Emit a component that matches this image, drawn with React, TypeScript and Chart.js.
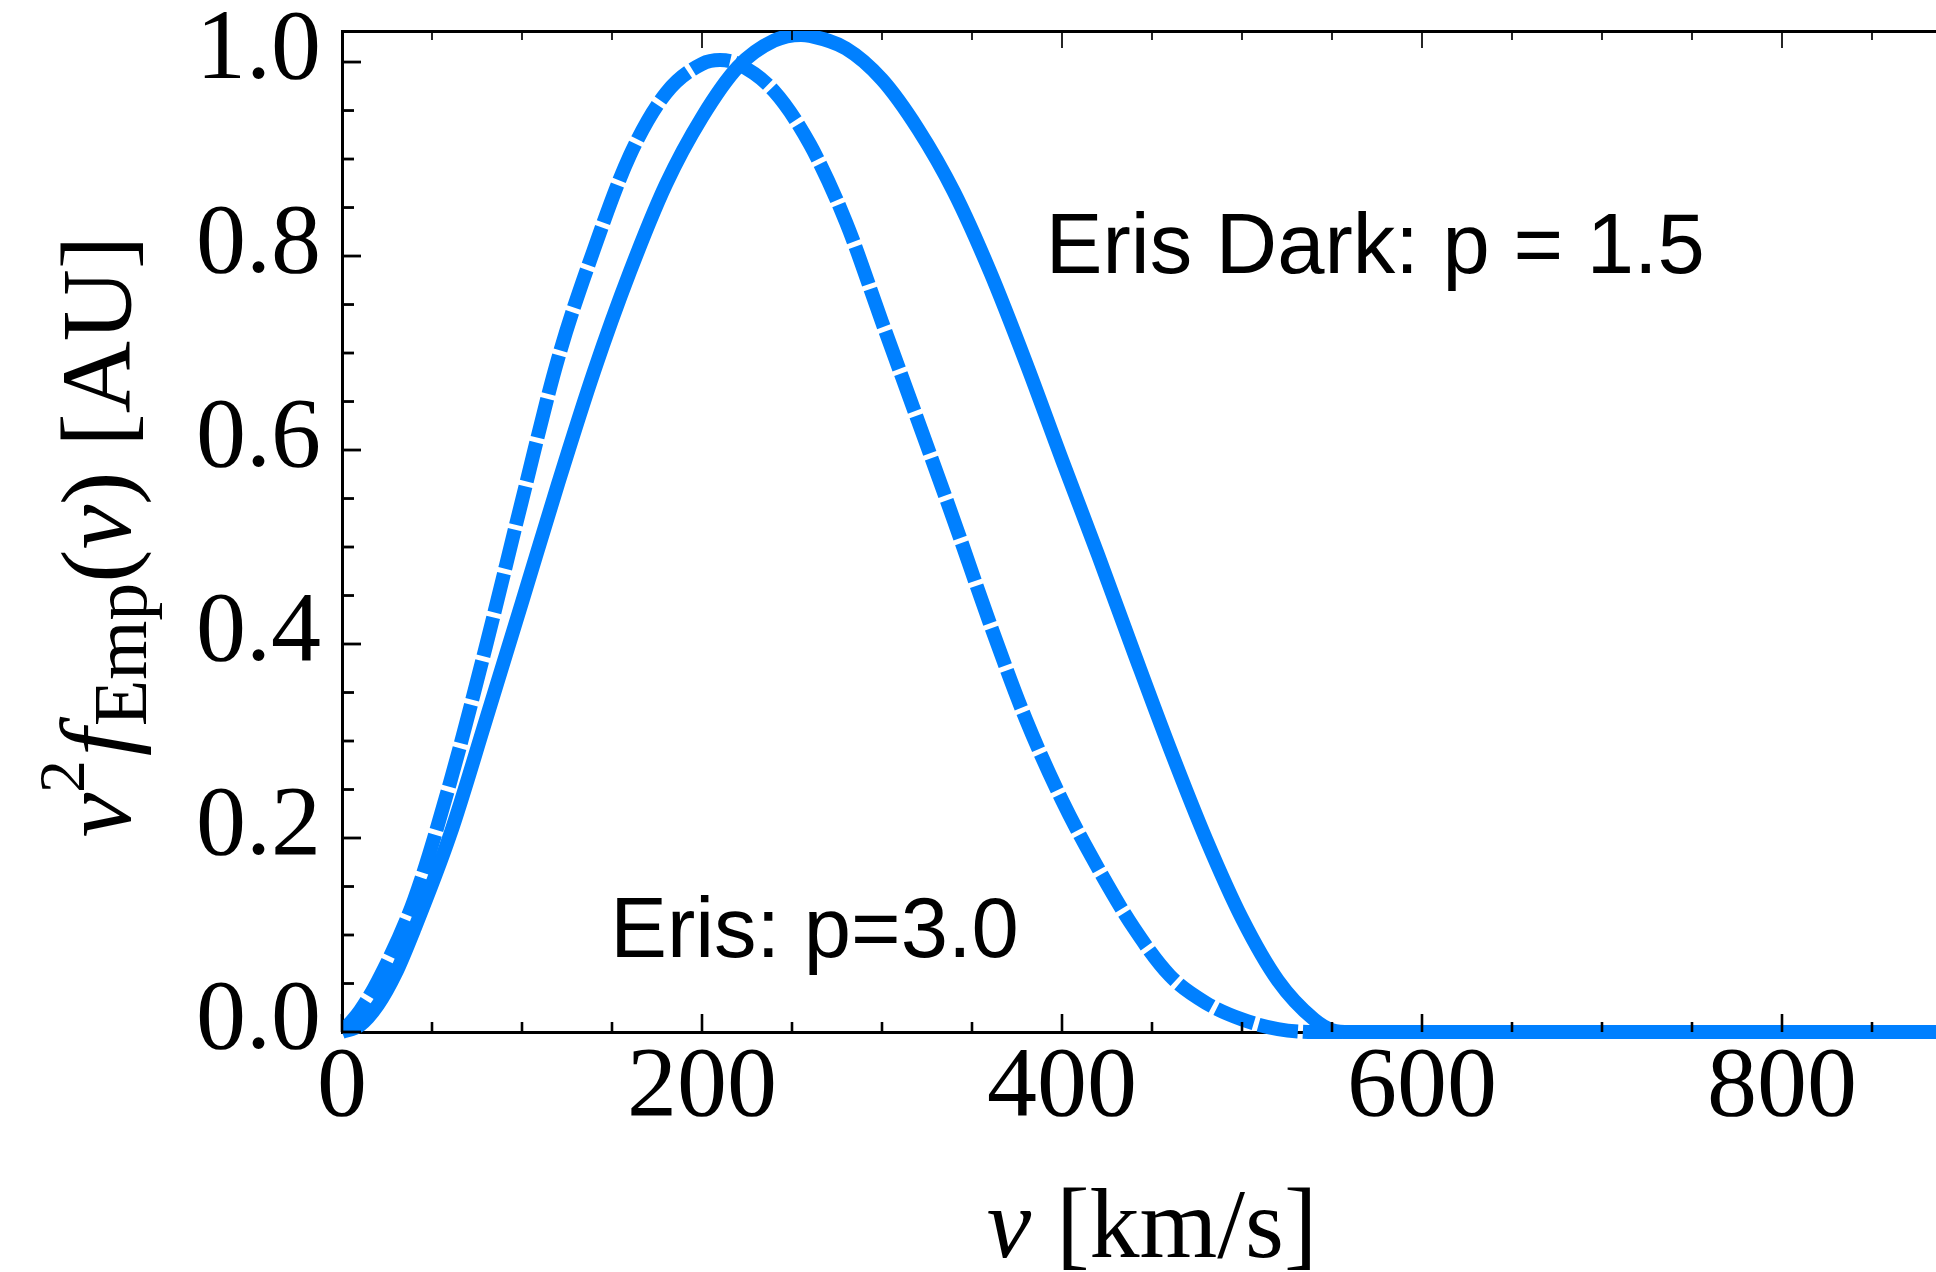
import { useEffect, useRef } from "react";
import { Chart, registerables } from "chart.js";

Chart.register(...registerables);

// Eris, p = 3.0 (dashed curve): speed in km/s and normalised v^2 f(v)
const ERIS_SPEED = [
  0, 10, 20, 40, 60, 80, 100, 120, 140, 160, 180, 200, 210, 220, 240, 260, 280, 300,
  320, 340, 360, 380, 400, 420, 440, 460, 480, 500, 520, 540, 600, 700, 800, 900,
];
const ERIS_VALUE = [
  0, 0.022, 0.053, 0.136, 0.257, 0.398, 0.548, 0.694, 0.807, 0.904, 0.968, 0.998,
  1.002, 0.998, 0.97, 0.915, 0.835, 0.732, 0.63, 0.527, 0.421, 0.322, 0.239, 0.169,
  0.107, 0.058, 0.03, 0.013, 0.003, 0, 0, 0, 0, 0,
];

// Eris Dark, p = 1.5 (solid curve)
const ERIS_DARK_SPEED = [
  0, 10, 20, 30, 40, 60, 80, 100, 120, 140, 160, 180, 200, 220, 240, 255, 260, 280,
  300, 320, 340, 360, 380, 400, 420, 440, 460, 480, 500, 520, 540, 550, 560, 600,
  700, 800, 900,
];
const ERIS_DARK_VALUE = [
  0, 0.007, 0.028, 0.061, 0.105, 0.203, 0.322, 0.443, 0.565, 0.681, 0.784, 0.874,
  0.943, 0.995, 1.022, 1.028, 1.027, 1.014, 0.982, 0.931, 0.866, 0.784, 0.69, 0.59,
  0.492, 0.391, 0.292, 0.199, 0.117, 0.053, 0.013, 0.002, 0, 0, 0, 0, 0,
];

const X_LABEL_TICKS = [0, 200, 400, 600, 800];
const Y_LABEL_TICKS = [0, 0.2, 0.4, 0.6, 0.8, 1.0];
const X_MIN = 0;
const X_MAX = 900;
const Y_MIN = 0;
const Y_MAX = 1.032;
const X_MAJOR_STEP = 200;
const X_MINOR_STEP = 50;
const Y_MINOR_COUNT = 20; // minor ticks every 0.05 up to 1.0, major every 0.2

const ERIS_LABEL = "Eris: p=3.0";
const ERIS_DARK_LABEL = "Eris Dark: p = 1.5";

const BLUE = "#0080ff";
const SERIF = '"Liberation Serif", "Times New Roman", serif';
const SANS = '"Liberation Sans", Arial, Helvetica, sans-serif';

type Run = { text: string; font: string; shift?: number; gap?: number };

function runsWidth(ctx: CanvasRenderingContext2D, runs: Run[]) {
  let w = 0;
  for (const r of runs) {
    ctx.font = r.font;
    w += ctx.measureText(r.text).width + (r.gap || 0);
  }
  return w;
}

function drawRuns(ctx: CanvasRenderingContext2D, runs: Run[], x: number, y: number) {
  let cx = x;
  for (const r of runs) {
    ctx.font = r.font;
    ctx.fillText(r.text, cx, y + (r.shift || 0));
    cx += ctx.measureText(r.text).width + (r.gap || 0);
  }
}

// inward tick marks, axis titles and in-plot curve labels
const decorPlugin = {
  id: "decor",
  afterDraw(chart: any) {
    const { ctx, chartArea: area, scales } = chart;
    const xs = scales.x;
    const ys = scales.y;
    ctx.save();
    ctx.strokeStyle = "#000";
    ctx.lineCap = "butt";

    for (let v = X_MIN; v <= X_MAX + 1e-9; v += X_MINOR_STEP) {
      const px = xs.getPixelForValue(v);
      const major = v % X_MAJOR_STEP === 0;
      // bottom
      ctx.lineWidth = 2.6;
      ctx.beginPath();
      ctx.moveTo(px, area.bottom);
      ctx.lineTo(px, area.bottom - (major ? 18 : 10));
      ctx.stroke();
      // top
      ctx.lineWidth = 1.7;
      ctx.beginPath();
      ctx.moveTo(px, area.top);
      ctx.lineTo(px, area.top + (major ? 17 : 9));
      ctx.stroke();
    }

    ctx.lineWidth = 2.8;
    for (let i = 0; i <= Y_MINOR_COUNT; i++) {
      const val = i / Y_MINOR_COUNT;
      const py = ys.getPixelForValue(val);
      const major = i % 4 === 0;
      ctx.beginPath();
      ctx.moveTo(area.left, py);
      ctx.lineTo(area.left + (major ? 19 : 12), py);
      ctx.stroke();
    }

    ctx.fillStyle = "#000";
    ctx.textAlign = "left";
    ctx.textBaseline = "alphabetic";

    // curve labels
    ctx.font = `85px ${SANS}`;
    ctx.fillText(ERIS_DARK_LABEL, xs.getPixelForValue(391), ys.getPixelForValue(0.7825));
    ctx.fillText(ERIS_LABEL, xs.getPixelForValue(149), ys.getPixelForValue(0.0773));

    // x axis title
    const xRuns: Run[] = [
      { text: "v", font: `italic 100px ${SERIF}` },
      { text: " [km/s]", font: `100px ${SERIF}` },
    ];
    const xMid = xs.getPixelForValue((X_MIN + X_MAX) / 2);
    drawRuns(ctx, xRuns, xMid - runsWidth(ctx, xRuns) / 2, 1257);

    // y axis title, rotated
    const yRuns: Run[] = [
      { text: "v", font: `italic 100px ${SERIF}` },
      { text: "2", font: `66px ${SERIF}`, shift: -46, gap: 4 },
      { text: "f", font: `italic 100px ${SERIF}`, gap: 2 },
      { text: "Emp", font: `76px ${SERIF}`, shift: 16 },
      { text: "(", font: `100px ${SERIF}` },
      { text: "v", font: `italic 100px ${SERIF}` },
      { text: ")", font: `100px ${SERIF}` },
      { text: " [AU]", font: `100px ${SERIF}` },
    ];
    const yMid = (area.top + area.bottom) / 2 + 5;
    ctx.translate(130, yMid);
    ctx.rotate(-Math.PI / 2);
    drawRuns(ctx, yRuns, -runsWidth(ctx, yRuns) / 2, 0);
    ctx.restore();
  },
};

export default function App() {
  const ref = useRef<HTMLCanvasElement>(null);

  useEffect(() => {
    const canvas = ref.current;
    if (!canvas) return;

    const curve = {
      borderColor: BLUE,
      backgroundColor: BLUE,
      borderWidth: 14,
      pointRadius: 0,
      fill: false,
      cubicInterpolationMode: "monotone" as const,
      borderCapStyle: "butt" as const,
      borderJoinStyle: "round" as const,
      clip: { left: 0, top: 0, right: 0, bottom: 12 },
    };

    const chart = new Chart(canvas, {
      type: "line",
      data: {
        datasets: [
          {
            ...curve,
            label: ERIS_DARK_LABEL,
            data: ERIS_DARK_SPEED.map((v, i) => ({ x: v, y: ERIS_DARK_VALUE[i] })),
          },
          {
            ...curve,
            label: ERIS_LABEL,
            borderDash: [40, 5],
            data: ERIS_SPEED.map((v, i) => ({ x: v, y: ERIS_VALUE[i] })),
          },
        ],
      },
      options: {
        responsive: false,
        animation: false,
        devicePixelRatio: 1,
        events: [],
        layout: { padding: 0 },
        plugins: {
          legend: { display: false },
          tooltip: { enabled: false },
          title: { display: false },
        },
        scales: {
          x: {
            type: "linear",
            position: "bottom",
            min: X_MIN,
            max: X_MAX,
            z: 1,
            grid: { display: false, drawTicks: false },
            border: { display: true, color: "#000", width: 3 },
            afterBuildTicks: (s: any) => {
              s.ticks = X_LABEL_TICKS.map((value) => ({ value }));
            },
            ticks: {
              color: "#000",
              font: { family: SERIF, size: 100, lineHeight: 1 },
              padding: 7,
              maxRotation: 0,
              autoSkip: false,
              callback: (v: any) => String(v),
            },
            afterFit: (s: any) => {
              s.height = 240;
              s.paddingLeft = 0;
              s.paddingRight = 0;
            },
          },
          xTop: {
            type: "linear",
            position: "top",
            min: X_MIN,
            max: X_MAX,
            z: 1,
            grid: { display: false, drawTicks: false },
            border: { display: true, color: "#000", width: 3 },
            ticks: { display: false },
            afterFit: (s: any) => {
              s.height = 31;
              s.paddingLeft = 0;
              s.paddingRight = 0;
            },
          },
          y: {
            type: "linear",
            position: "left",
            min: Y_MIN,
            max: Y_MAX,
            z: 1,
            grid: { display: false, drawTicks: false },
            border: { display: true, color: "#000", width: 3 },
            afterBuildTicks: (s: any) => {
              s.ticks = Y_LABEL_TICKS.map((value) => ({ value }));
            },
            ticks: {
              color: "#000",
              font: { family: SERIF, size: 100, lineHeight: 1 },
              padding: 21,
              labelOffset: -10,
              autoSkip: false,
              callback: (v: any) => Number(v).toFixed(1),
            },
            afterFit: (s: any) => {
              s.width = 342;
              s.paddingTop = 0;
              s.paddingBottom = 0;
            },
          },
        },
      } as any,
      plugins: [decorPlugin],
    });

    return () => chart.destroy();
  }, []);

  return (
    <div
      style={{
        position: "fixed",
        left: 0,
        top: 0,
        width: 1936,
        height: 1272,
        overflow: "hidden",
        background: "#fff",
      }}
    >
      <canvas ref={ref} width={1962} height={1272} style={{ display: "block" }} />
    </div>
  );
}
